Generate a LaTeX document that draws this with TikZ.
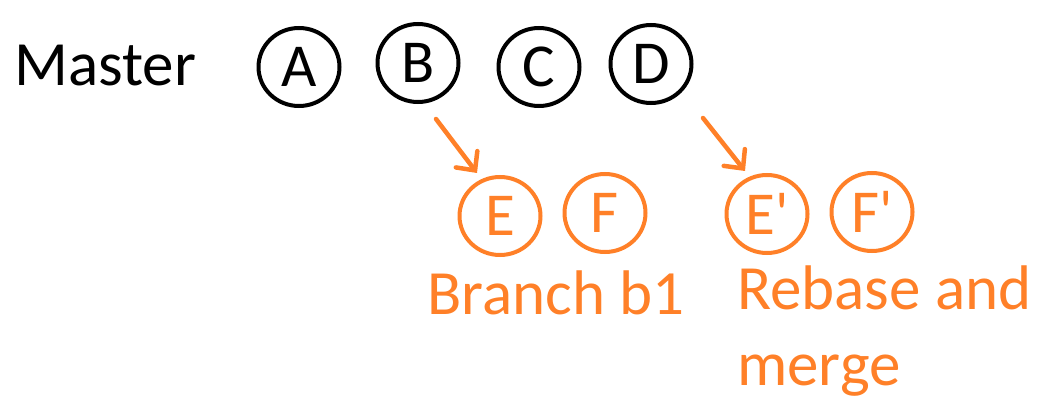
\documentclass[tikz,border=0pt]{standalone}
\usepackage{fontspec}
\setmainfont{Carlito}[Ligatures=TeXOff]
\usetikzlibrary{shapes.geometric,arrows.meta,calc}
\definecolor{branchorange}{RGB}{255,128,40}
\begin{document}
\begin{tikzpicture}[x=1pt,y=-1pt,
  commit/.style={ellipse,draw,line width=4pt,inner sep=0pt,minimum width=81pt,minimum height=78pt,font=\fontsize{61}{61}\selectfont},
  bcommit/.style={commit,draw=branchorange,text=branchorange},
  label/.style={inner sep=0pt,font=\fontsize{63}{76}\selectfont},
  arr/.style={draw=branchorange,line width=4.5pt,line cap=round,-{Straight Barb[length=14pt,width=27pt,line cap=round]}}]
\useasboundingbox (0,0) rectangle (1049,406);
\node[label,anchor=base west] (master) at (14,86) {Master};
\node[commit] (A) at (299,67) {A};
\node[commit] (B) at (418,63) {B};
\node[commit] (C) at (539,67) {C};
\node[commit] (D) at (651,64) {D};
\node[bcommit] (E) at (500,216) {E};
\node[bcommit] (F) at (605,213) {F};
\node[bcommit] (E2) at (767,214) {E'};
\node[bcommit] (F2) at (872,212) {F'};
\node[label,text=branchorange,anchor=base west] (branch) at (427,314) {Branch b1};
\node[label,text=branchorange,anchor=base west,align=left] (rebase) at (737,385) {Rebase and\\merge};
\draw[arr] ($(B.south)+(18,15)$) -- ($(E.north)+(-23,-2)$);
\draw[arr] ($(D.south)+(52,13)$) -- ($(E2.north)+(-22,-2)$);
\end{tikzpicture}
\end{document}
